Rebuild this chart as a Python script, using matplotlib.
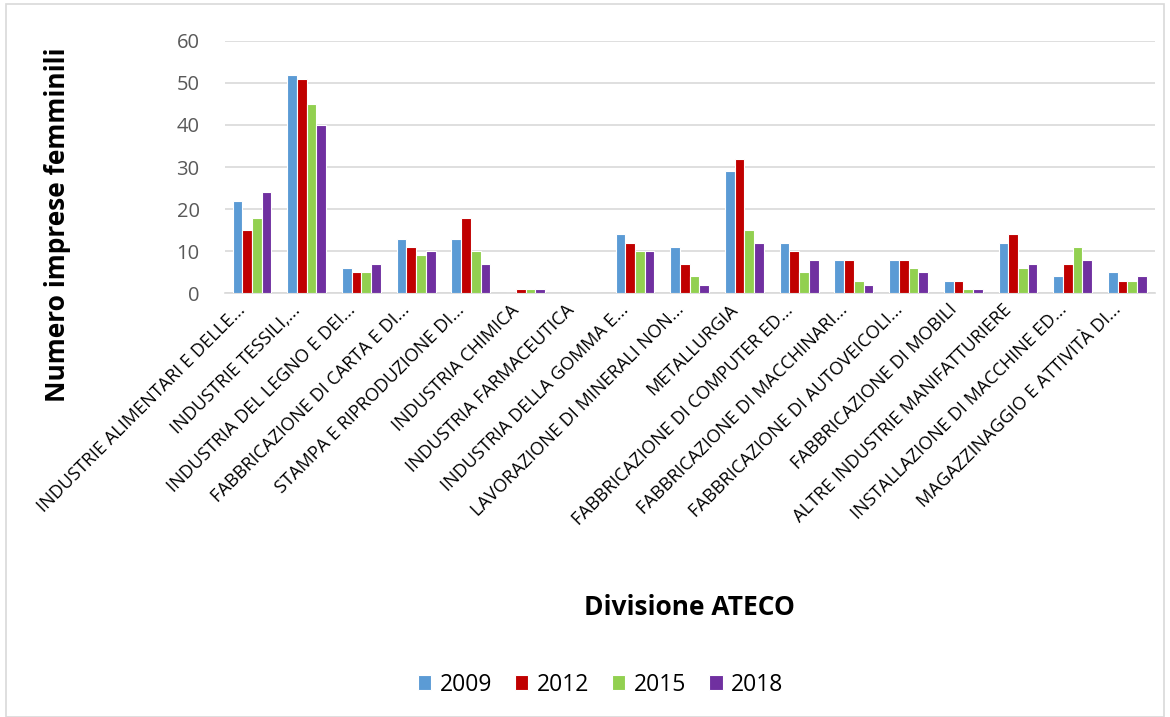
import numpy as np
import matplotlib.pyplot as plt
import matplotlib as mpl
from matplotlib.patches import Rectangle
from matplotlib.transforms import ScaledTranslation

mpl.rcParams['font.family'] = ['Open Sans', 'DejaVu Sans']

categorie = ['INDUSTRIE ALIMENTARI E DELLE...', 'INDUSTRIE TESSILI,...',
             'INDUSTRIA DEL LEGNO E DEI...', 'FABBRICAZIONE DI CARTA E DI...',
             'STAMPA E RIPRODUZIONE DI...', 'INDUSTRIA CHIMICA',
             'INDUSTRIA FARMACEUTICA', 'INDUSTRIA DELLA GOMMA E...',
             'LAVORAZIONE DI MINERALI NON...', 'METALLURGIA',
             'FABBRICAZIONE DI COMPUTER ED...', 'FABBRICAZIONE DI MACCHINARI...',
             'FABBRICAZIONE DI AUTOVEICOLI...', 'FABBRICAZIONE DI MOBILI',
             'ALTRE INDUSTRIE MANIFATTURIERE', 'INSTALLAZIONE DI MACCHINE ED...',
             'MAGAZZINAGGIO E ATTIVITÀ DI...']
anni = ['2009', '2012', '2015', '2018']
v2009 = [22, 52, 6, 13, 13, 0, 0, 14, 11, 29, 12, 8, 8, 3, 12, 4, 5]
v2012 = [15, 51, 5, 11, 18, 1, 0, 12, 7, 32, 10, 8, 8, 3, 14, 7, 3]
v2015 = [18, 45, 5, 9, 10, 1, 0, 10, 4, 15, 5, 3, 6, 1, 6, 11, 3]
v2018 = [24, 40, 7, 10, 7, 1, 0, 10, 2, 12, 8, 2, 5, 1, 7, 8, 4]
colori = ['#5b9bd5', '#c00000', '#92d050', '#7030a0']

fig = plt.figure(figsize=(11.7, 7.17), dpi=100)
ax = fig.add_axes([0.192, 0.591, 0.795, 0.352])

x = np.arange(len(categorie))
w = 0.178
for i, (vals, c, lab) in enumerate(zip([v2009, v2012, v2015, v2018], colori, anni)):
    ax.bar(x + (i - 1.5) * w, vals, w, color=c, edgecolor='white', linewidth=0.8, label=lab, zorder=3)

ax.set_xlim(-0.5, len(categorie) - 0.5)
ax.set_ylim(0, 60)
ax.set_yticks(range(0, 61, 10))
ax.grid(axis='y', color='#d9d9d9', linewidth=1.2, zorder=0)
for s in ['top', 'right', 'left']:
    ax.spines[s].set_visible(False)
ax.spines['bottom'].set_color('#d9d9d9')
ax.spines['bottom'].set_linewidth(1.2)
ax.tick_params(axis='y', length=0, labelsize=14.5, labelcolor='#595959', pad=18)
ax.tick_params(axis='x', length=0, pad=10)
ax.set_xticks(x)
ax.set_xticklabels(categorie, rotation=45, ha='right', va='center', rotation_mode='anchor',
                   fontsize=13.1, color='black')
off = ScaledTranslation(-9 / 100, 0, fig.dpi_scale_trans)
for t in ax.get_xticklabels():
    t.set_transform(t.get_transform() + off)

ax.set_ylabel('Numero imprese femminili', fontsize=19, fontweight='bold')
ax.yaxis.set_label_coords(-0.165, 0.27)
fig.text(0.589, 0.153, 'Divisione ATECO', fontsize=19, fontweight='bold', ha='center', va='center')

fig.legend(loc='center', bbox_to_anchor=(0.513, 0.045), ncol=4, frameon=False,
           fontsize=16.5, handlelength=0.6, handleheight=0.6, handletextpad=0.35, columnspacing=1.0)

fig.patches.append(Rectangle((0.005, 0.0), 0.99, 0.995, transform=fig.transFigure,
                             fill=False, edgecolor='#d9d9d9', linewidth=1.2))

fig.savefig('out.png', dpi=100)
